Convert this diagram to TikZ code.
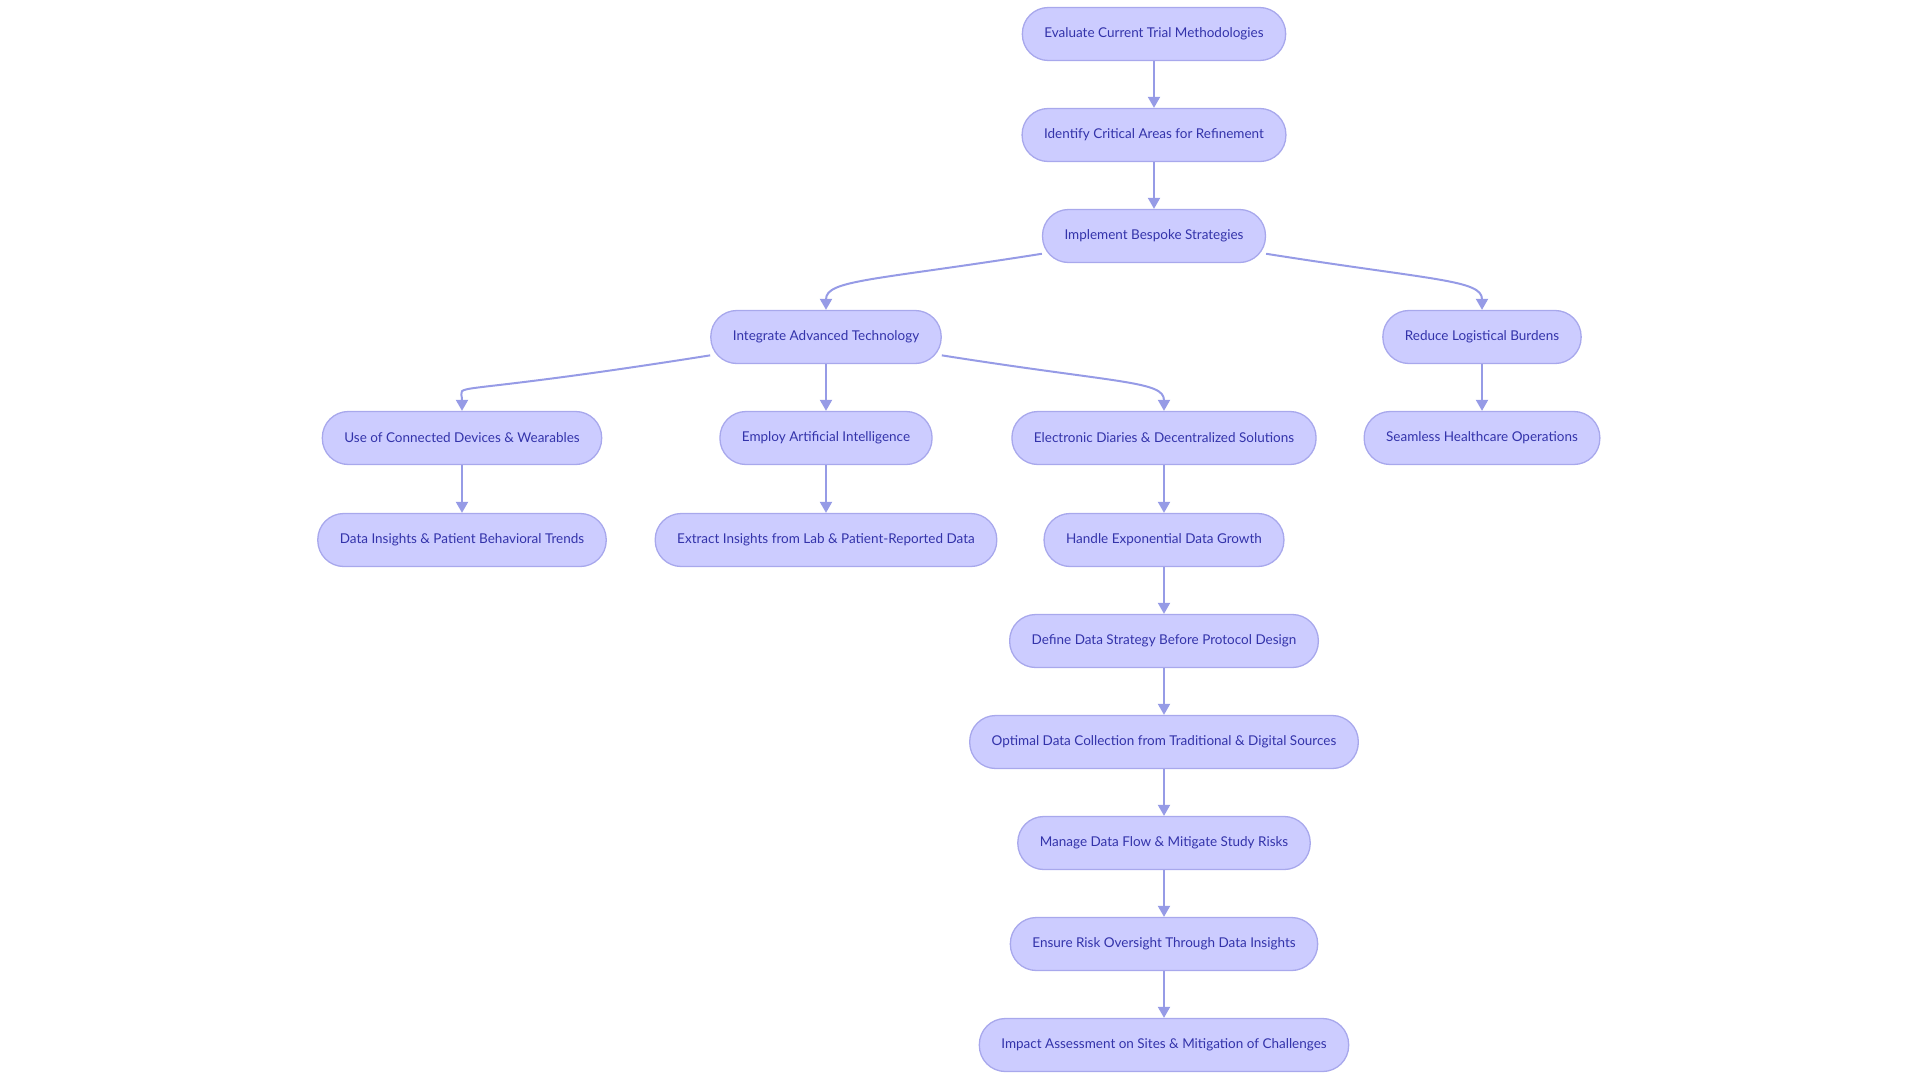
\documentclass[tikz,border=0pt]{standalone}
\usepackage{fontspec}
\setmainfont{Lato}
\definecolor{flowfill}{RGB}{204,204,255}
\definecolor{flowedge}{RGB}{168,168,236}
\definecolor{flowarrow}{RGB}{150,155,230}
\definecolor{flowtext}{RGB}{51,51,170}
\usetikzlibrary{arrows.meta,positioning,calc}

\begin{document}
\begin{tikzpicture}[x=1pt, y=-1pt,
    box/.style={rectangle, rounded corners=26pt, minimum height=53pt, inner xsep=22pt,
      draw=flowedge, line width=1.3pt, fill=flowfill, text=flowtext, align=center,
      font=\fontsize{13.5}{16}\selectfont},
    arr/.style={-{Triangle[length=11pt,width=12pt]}, line width=2pt, flowarrow}
  ]
    \useasboundingbox (0,0) rectangle (1920,1080);

    \node[box] (eval)   at (1154,34)  {Evaluate Current Trial Methodologies};
    \node[box] (ident)  at (1154,135) {Identify Critical Areas for Refinement};
    \node[box] (impl)   at (1154,236) {Implement Bespoke Strategies};
    \node[box] (integ)  at (826,337)  {Integrate Advanced Technology};
    \node[box] (reduce) at (1482,337) {Reduce Logistical Burdens};

    \node[box] (conn)   at (462,438)  {Use of Connected Devices \& Wearables};
    \node[box] (ai)     at (826,438)  {Employ Artificial Intelligence};
    \node[box] (diary)  at (1164,438) {Electronic Diaries \& Decentralized Solutions};
    \node[box] (seam)   at (1482,438) {Seamless Healthcare Operations};

    \node[box] (insight) at (462,540)  {Data Insights \& Patient Behavioral Trends};
    \node[box] (extract) at (826,540)  {Extract Insights from Lab \& Patient-Reported Data};
    \node[box] (growth)  at (1164,540) {Handle Exponential Data Growth};

    % data chain below the diaries
    \node[box] (strat)   at (1164,641)  {Define Data Strategy Before Protocol Design};
    \node[box] (collect) at (1164,742)  {Optimal Data Collection from Traditional \& Digital Sources};
    \node[box] (flow)    at (1164,843)  {Manage Data Flow \& Mitigate Study Risks};
    \node[box] (risk)    at (1164,944)  {Ensure Risk Oversight Through Data Insights};
    \node[box] (impact)  at (1164,1045) {Impact Assessment on Sites \& Mitigation of Challenges};

    \draw[arr] (eval.south)  -- (ident.north);
    \draw[arr] (ident.south) -- (impl.north);
    \draw[arr] (impl.189) .. controls +(189:170pt) and +(90:30pt) .. (integ.north);
    \draw[arr] (impl.351) .. controls +(351:170pt) and +(90:30pt) .. (reduce.north);

    \draw[arr] (integ.189) .. controls +(189:280pt) and +(90:30pt) .. (conn.north);
    \draw[arr] (integ.south) -- (ai.north);
    \draw[arr] (integ.351) .. controls +(351:180pt) and +(90:30pt) .. (diary.north);
    \draw[arr] (reduce.south) -- (seam.north);

    \draw[arr] (conn.south)  -- (insight.north);
    \draw[arr] (ai.south)    -- (extract.north);
    \draw[arr] (diary.south) -- (growth.north);
    \draw[arr] (growth.south)  -- (strat.north);
    \draw[arr] (strat.south)   -- (collect.north);
    \draw[arr] (collect.south) -- (flow.north);
    \draw[arr] (flow.south)    -- (risk.north);
    \draw[arr] (risk.south)    -- (impact.north);
  \end{tikzpicture}
\end{document}
